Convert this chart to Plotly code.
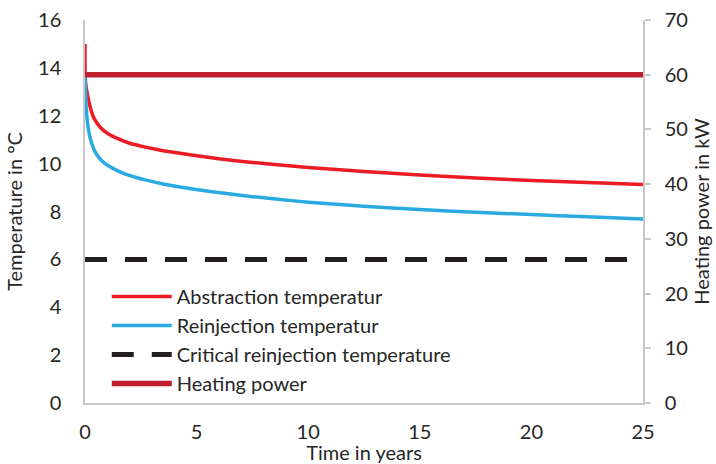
import plotly.graph_objects as go

# Time axis (years)
t_abs = [0, 0.003, 0.05, 0.15, 0.25, 0.37, 0.5, 0.7, 1.0, 1.5, 2.0, 2.75, 3.5, 4.25, 5, 6, 7.5, 9, 10,
         12.5, 15, 17.5, 20, 22.5, 25]
abstraction = [15.0, 13.7, 13.2, 12.7, 12.3, 11.96, 11.75, 11.5, 11.27, 11.03, 10.85, 10.68, 10.54, 10.43,
               10.33, 10.2, 10.05, 9.92, 9.84, 9.67, 9.52, 9.4, 9.3, 9.21, 9.13]

t_rei = [0, 0.02, 0.05, 0.1, 0.2, 0.3, 0.45, 0.65, 0.9, 1.25, 1.75, 2.25, 2.75, 3.5, 4.25, 5.13, 6.25,
         7.5, 8.75, 10, 12.5, 15, 17.5, 20, 22.5, 25]
reinjection = [13.7, 13.0, 12.4, 11.8, 11.2, 10.85, 10.5, 10.22, 10.0, 9.8, 9.58, 9.43, 9.31, 9.15, 9.02,
               8.9, 8.76, 8.62, 8.5, 8.39, 8.22, 8.08, 7.97, 7.87, 7.78, 7.69]

t_crit = [0, 25]
critical = [6, 6]

t_power = [0, 25]
heating_power = [60, 60]

x_ticks = [0, 5, 10, 15, 20, 25]
y_ticks = [0, 2, 4, 6, 8, 10, 12, 14, 16]
y2_ticks = [0, 10, 20, 30, 40, 50, 60, 70]

FONT = "Lato"
TXT = "#262626"
AX = "#c8c8c8"

fig = go.Figure()
fig.add_trace(go.Scatter(x=t_abs, y=abstraction, mode="lines", name="Abstraction temperatur",
                         line=dict(color="#ed1c24", width=3.5, shape="spline", smoothing=0.4)))
fig.add_trace(go.Scatter(x=t_rei, y=reinjection, mode="lines", name="Reinjection temperatur",
                         line=dict(color="#29abe2", width=3.5, shape="spline", smoothing=0.4)))
fig.add_trace(go.Scatter(x=t_crit, y=critical, mode="lines", name="Critical reinjection temperature",
                         line=dict(color="#231f20", width=5, dash="22px,18px")))
fig.add_trace(go.Scatter(x=t_power, y=heating_power, mode="lines", name="Heating power", yaxis="y2",
                         line=dict(color="#be1e2d", width=5.5)))

fig.update_layout(
    width=716, height=464,
    margin=dict(l=85, r=73, t=20, b=61),
    paper_bgcolor="white", plot_bgcolor="white",
    font=dict(family=FONT, size=20, color=TXT),
    showlegend=True,
    legend=dict(x=0.039, y=0.0, xanchor="left", yanchor="bottom",
                bgcolor="rgba(0,0,0,0)", font=dict(size=20, color=TXT),
                itemwidth=60, tracegroupgap=0),
    xaxis=dict(range=[0, 25], tickvals=x_ticks, showgrid=False, zeroline=False,
               showline=True, linecolor=AX, linewidth=1.5, ticks="", automargin=False,
               ticklabelstandoff=10,
               title=dict(text="Time in years", standoff=0, font=dict(size=20))),
    yaxis=dict(range=[0, 16], tickvals=y_ticks, showgrid=False, zeroline=False,
               showline=True, linecolor=AX, linewidth=1.5, ticks="", automargin=False,
               ticklabelstandoff=18,
               title=dict(text="Temperature in °C", standoff=10, font=dict(size=20))),
    yaxis2=dict(range=[0, 70], tickvals=y2_ticks, overlaying="y", side="right",
                showgrid=False, zeroline=False, showline=True, linecolor=AX, linewidth=1.5,
                ticks="outside", ticklen=6, tickcolor=AX, tickwidth=1.5, automargin=False,
                ticklabelstandoff=10,
                title=dict(text="Heating power in kW", standoff=8, font=dict(size=20))),
)

fig.write_html("out.html")
